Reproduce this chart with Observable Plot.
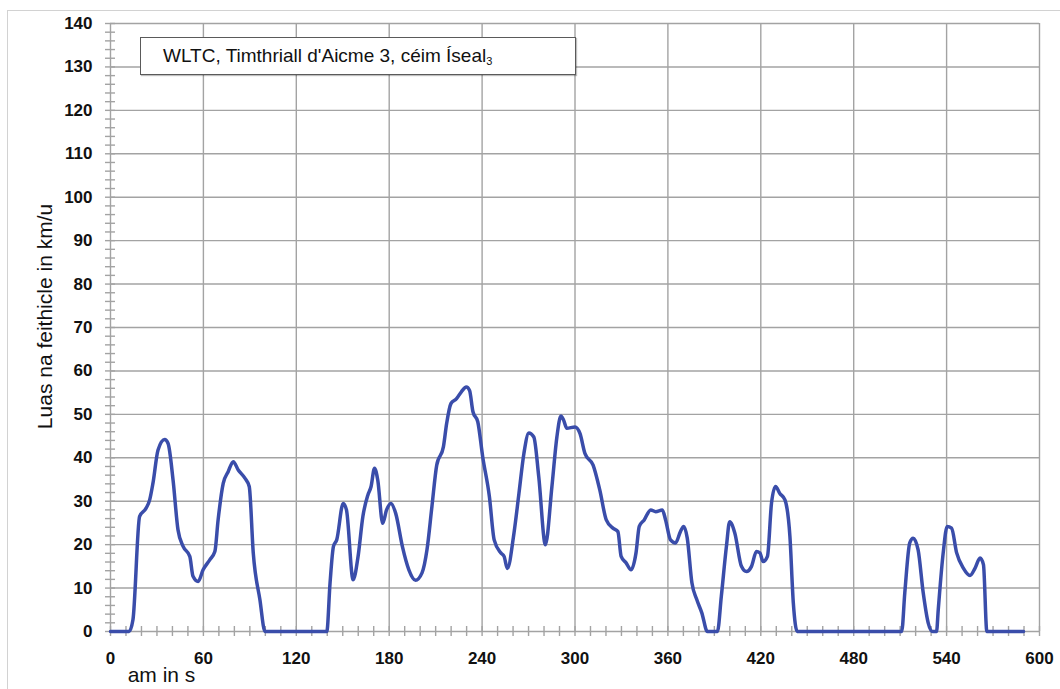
<!DOCTYPE html>
<html>
<head>
<meta charset="utf-8">
<script src="https://cdn.jsdelivr.net/npm/d3@7"></script>
<script src="https://cdn.jsdelivr.net/npm/@observablehq/plot@0.6"></script>
<style>
  html, body { margin: 0; padding: 0; background: #fff; overflow: hidden; }
  #wrap { position: relative; width: 1060px; height: 689px; font-family: "Liberation Sans", Arial, sans-serif; }
  #border { position: absolute; left: 7px; top: 10px; width: 1100px; height: 800px; border: 1.5px solid #d2d2d2; box-sizing: border-box; }
  #chart { position: absolute; left: 0; top: 0; }
  #legend { position: absolute; left: 140px; top: 37px; width: 436px; height: 38px; box-sizing: border-box;
            border: 1.5px solid #5a5a5a; background: #fff; box-shadow: 1px 1px 1px rgba(0,0,0,0.25);
            font-size: 19px; color: #111; line-height: 35px; padding-left: 22px; white-space: nowrap; }
  #legend sub { font-size: 11px; vertical-align: -3px; line-height: 0; }
</style>
</head>
<body>
<div id="wrap">
  <div id="border"></div>
  <div id="chart"></div>
  <div id="legend"></div>
</div>
<script>
// ---- Data ----
const legendMain = "WLTC, Timthriall d'Aicme 3, céim Íseal";
const legendSub = "3";
const yTitle = "Luas na feithicle in km/u";
const xTitle = "am in s";

const xMajorTicks = [0, 60, 120, 180, 240, 300, 360, 420, 480, 540, 600];
const yMajorTicks = [0, 10, 20, 30, 40, 50, 60, 70, 80, 90, 100, 110, 120, 130, 140];

const time = [0,12,14.5,18.8,23,25.3,27.4,30.7,35,37.2,40.4,43.6,46.9,51.2,53.3,56.6,59.8,64.1,67.4,69.5,72.8,76,79.3,82.5,86.8,89.6,92.2,96.5,99.8,
  139.7,141.8,144,146.1,150.3,152.4,156.7,159.9,163,166.2,168.3,170.5,172.6,175.8,178.3,181.1,184.2,188.5,192.7,197,201.2,204.4,207.6,210.7,215,217.1,219.9,223.5,226.6,229.8,231.9,234.1,237.2,240.4,244.7,247.8,252.1,254.2,256.3,
  260.6,263.8,267,270.2,273.4,276.6,280.9,285.1,288.3,290.9,292.6,294.7,300,303.2,306.4,311.7,316,320.2,324.5,327.7,329.8,333,336.2,339.4,341.5,344.7,348.9,352.1,356.4,358.5,361.7,364.9,368.1,370.2,372.5,375.5,378.7,381.9,385.5,
  392,394.5,397.8,399.9,403.2,407.5,410.7,414,417.2,419.4,421.5,424.3,426.9,429.5,432.3,435.6,438.8,441,443.5,
  511,513,516.2,518.4,521.6,524.9,528.1,531,533.5,534.6,537.8,540.4,543.2,546.5,550.8,555.1,558.4,561.6,563.8,566,589.7];
const speed = [0,0,2.7,26.5,28.4,30.3,34.1,41.8,44.2,43.3,34.9,23.4,19.6,17.3,12.7,11.5,14.2,16.5,18.4,25.7,34.1,36.8,39.1,37.2,35.3,33.4,18.1,7.3,0,
  0,11.2,19.6,21.1,29.5,28,11.9,17.3,26.5,31.4,33.4,37.6,34.9,24.9,28,29.5,27.2,19.6,14.2,11.8,13.5,18.8,28.8,38.3,42.5,47.9,52.5,53.6,55.2,56.3,55.5,50.6,48.3,40.2,31.1,21.1,18.1,17.3,14.5,
  22.7,31.8,41,45.7,44.8,35.6,20,33.4,44.8,49.6,48.7,46.8,47.1,45.6,41,38.3,32.6,25.7,23.8,23,17.3,15.8,14.2,18.1,24.2,25.7,28,27.6,28,25.7,21.1,20.4,23,24.2,21.5,11.2,7.3,4.3,0,
  0,8.1,19.6,25.3,22.7,15,13.8,15,18.4,18.1,16.1,17.3,29.5,33.4,31.8,30.3,21.9,6.6,0,
  0,8.9,20.4,21.5,18.8,8.9,2,0,0,5,18.1,24.2,23.8,18.1,14.6,12.9,14.6,16.9,15.4,0,0];

const data = time.map((t, i) => ({t, v: speed[i]}));

// ---- Layout ----
const W = 1060, H = 689;
const mL = 110, mR = 21, mT = 23, mB = 58;
const xMinor = d3.range(0, 601, 10);
const yMinor = d3.range(0, 141, 2);
const pxPerX = (W - mL - mR) / 600;
const pxPerY = (H - mT - mB) / 140;
const tickHalf = 5;
const gridColor = "#a3a3a3";
const lineColor = "#3a4daa";

const chart = Plot.plot({
  width: W, height: H,
  marginLeft: mL, marginRight: mR, marginTop: mT, marginBottom: mB,
  style: {fontFamily: "'Liberation Sans', Arial, sans-serif", background: "transparent"},
  x: {domain: [0, 600]},
  y: {domain: [0, 140]},
  marks: [
    Plot.gridX(xMajorTicks, {stroke: gridColor, strokeOpacity: 1, strokeWidth: 1.4}),
    Plot.gridY(yMajorTicks, {stroke: gridColor, strokeOpacity: 1, strokeWidth: 1.4}),
    Plot.ruleX(xMinor, {y1: -tickHalf / pxPerY, y2: tickHalf / pxPerY, stroke: gridColor, strokeWidth: 1.4}),
    Plot.ruleY(yMinor, {x1: -tickHalf / pxPerX, x2: tickHalf / pxPerX, stroke: gridColor, strokeWidth: 1.4}),
    Plot.axisY({ticks: yMajorTicks, tickSize: 0, tickPadding: 18, label: null,
      fontSize: 17, fontWeight: "bold", fill: "#111"}),
    Plot.axisX({ticks: xMajorTicks, tickSize: 0, tickPadding: 20, label: null,
      fontSize: 17, fontWeight: "bold", fill: "#111"}),
    Plot.line(data, {x: "t", y: "v", stroke: lineColor, strokeWidth: 3.5, curve: "monotone-x"}),
    Plot.text([yTitle], {frameAnchor: "left", textAnchor: "middle", rotate: -90, dx: -65, dy: -11, fontSize: 21, fill: "#111"}),
    Plot.text([xTitle], {frameAnchor: "bottom-left", textAnchor: "middle", dx: 51, dy: 50, fontSize: 21, fill: "#111"})
  ]
});
document.getElementById("chart").appendChild(chart);

const legend = document.getElementById("legend");
legend.textContent = legendMain;
const sub = document.createElement("sub");
sub.textContent = legendSub;
legend.appendChild(sub);
</script>
</body>
</html>
